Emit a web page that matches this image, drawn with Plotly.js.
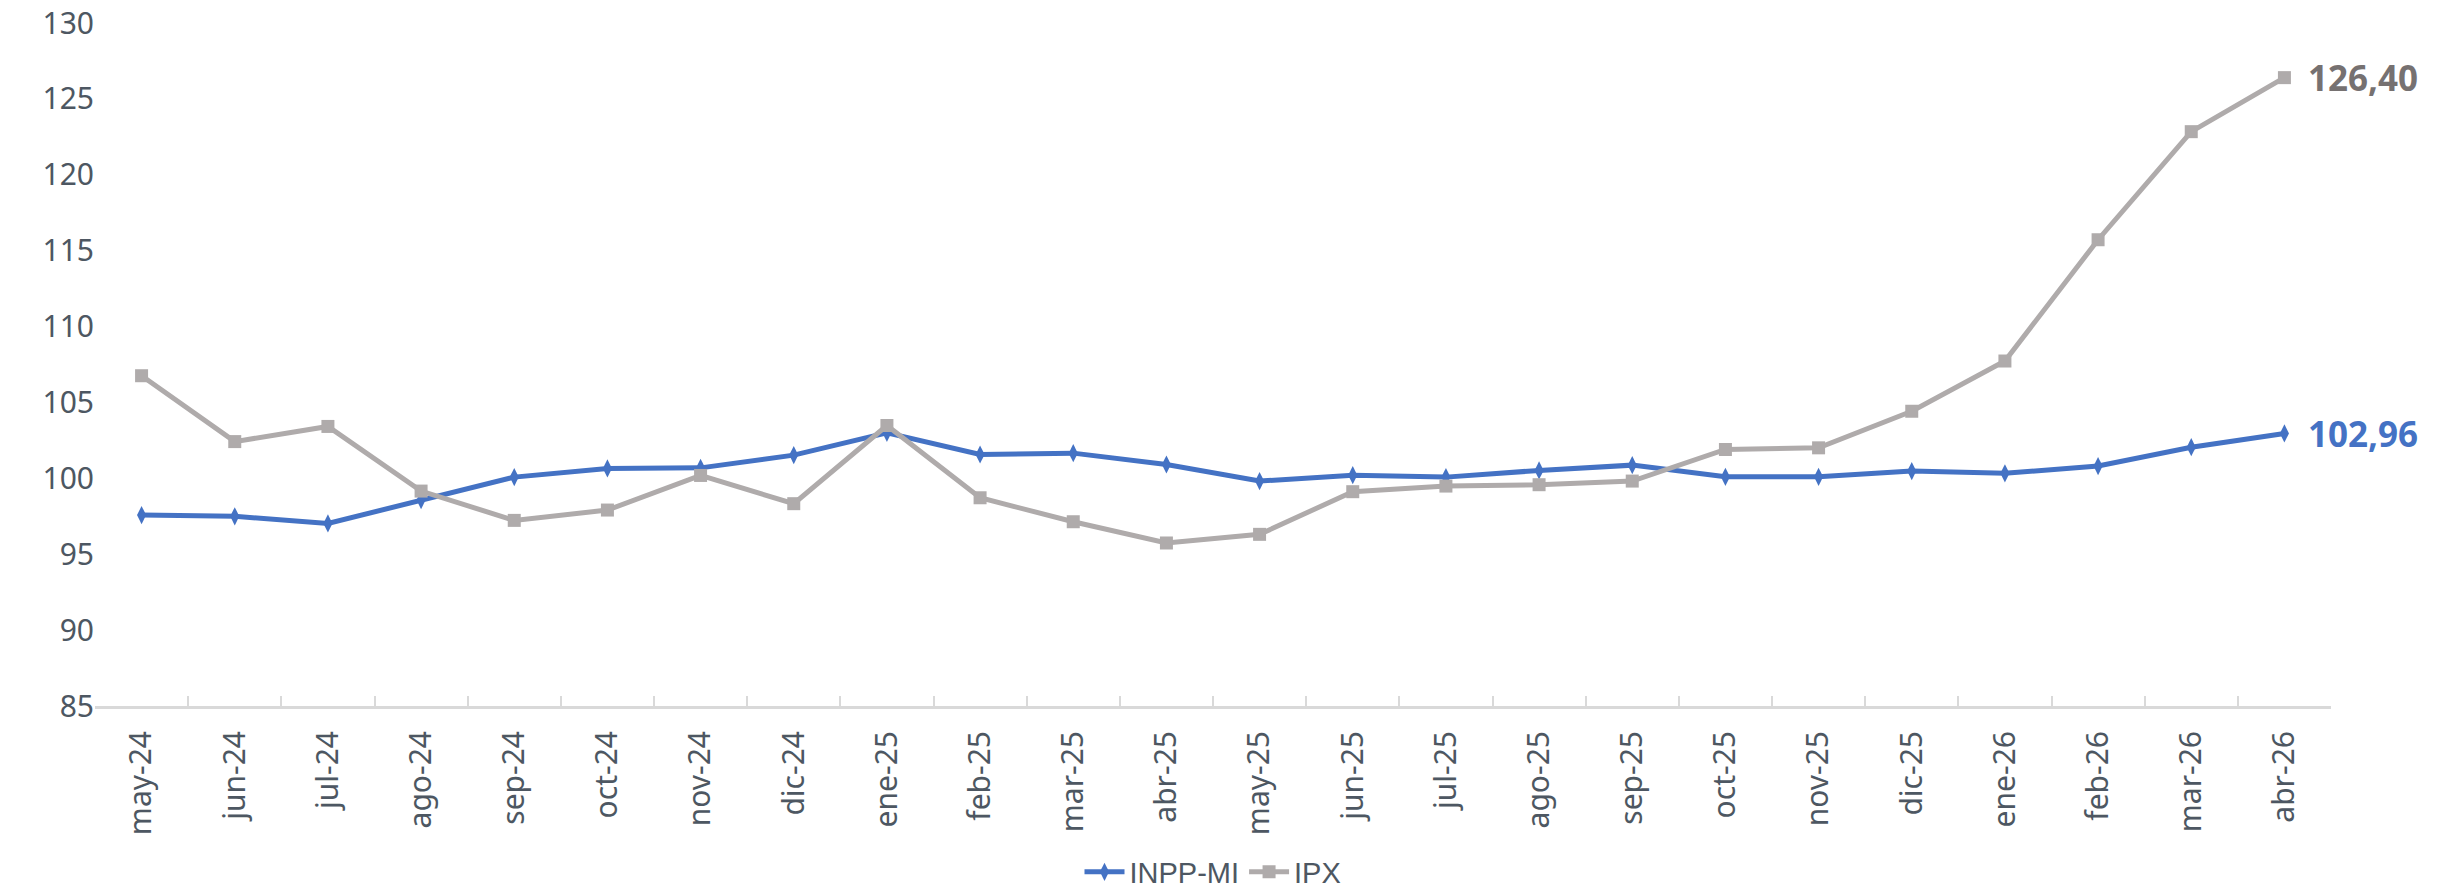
<!DOCTYPE html>
<html>
<head>
<meta charset="utf-8">
<script src="https://cdn.plot.ly/plotly-3.0.1.min.js"></script>
<style>
  html, body { margin: 0; padding: 0; background: #ffffff; }
  #chart { width: 2448px; height: 894px; }
</style>
</head>
<body>
<div id="chart"></div>
<script>
const months = ["may-24","jun-24","jul-24","ago-24","sep-24","oct-24","nov-24","dic-24",
  "ene-25","feb-25","mar-25","abr-25","may-25","jun-25","jul-25","ago-25","sep-25",
  "oct-25","nov-25","dic-25","ene-26","feb-26","mar-26","abr-26"];

const inppMI = [97.58, 97.50, 97.03, 98.57, 100.08, 100.65, 100.69, 101.53,
  103.00, 101.57, 101.66, 100.91, 99.82, 100.21, 100.08, 100.52, 100.87,
  100.10, 100.10, 100.48, 100.33, 100.81, 102.05, 102.96];

const ipx = [106.76, 102.42, 103.42, 99.16, 97.23, 97.91, 100.19, 98.33,
  103.48, 98.72, 97.14, 95.74, 96.31, 99.12, 99.49, 99.58, 99.82,
  101.90, 102.01, 104.42, 107.73, 115.72, 122.84, 126.40];

const yTicks = [85, 90, 95, 100, 105, 110, 115, 120, 125, 130];

const blue = "#4472C4";
const gray = "#AFABAB";
const labelGray = "#767171";
const axisText = "#4d5762";

function fmt(v) { return v.toFixed(2).replace(".", ","); }

const traces = [
  {
    x: months, y: inppMI, name: "INPP-MI", type: "scatter", mode: "lines+markers",
    line: { color: blue, width: 5 },
    marker: { symbol: "diamond-tall", size: 13, color: blue }
  },
  {
    x: months, y: ipx, name: "IPX", type: "scatter", mode: "lines+markers",
    line: { color: gray, width: 5 },
    marker: { symbol: "square", size: 13, color: gray }
  }
];

const last = months.length - 1;

const layout = {
  width: 2448, height: 894,
  paper_bgcolor: "#ffffff", plot_bgcolor: "#ffffff",
  margin: { l: 95, r: 117, t: 23, b: 188, pad: 0, autoexpand: false },
  font: { family: "Noto Sans, DejaVu Sans, sans-serif", color: axisText },
  showlegend: true,
  legend: {
    orientation: "h", x: 0.5, xanchor: "center", y: -0.243, yanchor: "middle",
    font: { family: "Liberation Sans, Arial, sans-serif", size: 29, color: axisText },
    itemwidth: 40, tracegroupgap: 0
  },
  xaxis: {
    type: "category", range: [-0.5, months.length - 0.5],
    categoryorder: "array", categoryarray: months,
    showline: true, linecolor: "#D9D9D9", linewidth: 3,
    ticks: "inside", tickson: "boundaries", ticklen: 10, tickcolor: "#D9D9D9", tickwidth: 2,
    tickangle: -90, ticklabelstandoff: 10,
    tickfont: { size: 30, color: axisText },
    showgrid: false, zeroline: false, fixedrange: true, automargin: false
  },
  yaxis: {
    range: [85, 130], tickmode: "array", tickvals: yTicks, ticktext: yTicks.map(String),
    showgrid: false, zeroline: false, showline: false, ticks: "",
    tickfont: { size: 30, color: axisText }, automargin: false
  },
  annotations: [
    {
      x: months[last], y: ipx[last], xref: "x", yref: "y",
      text: "<b>" + fmt(ipx[last]) + "</b>", showarrow: false,
      xanchor: "left", yanchor: "middle", xshift: 22,
      font: { family: "Noto Sans, DejaVu Sans, sans-serif", size: 35, color: labelGray }
    },
    {
      x: months[last], y: inppMI[last], xref: "x", yref: "y",
      text: "<b>" + fmt(inppMI[last]) + "</b>", showarrow: false,
      xanchor: "left", yanchor: "middle", xshift: 22,
      font: { family: "Noto Sans, DejaVu Sans, sans-serif", size: 35, color: blue }
    }
  ]
};

Plotly.newPlot("chart", traces, layout, { displayModeBar: false, staticPlot: true });
</script>
</body>
</html>
